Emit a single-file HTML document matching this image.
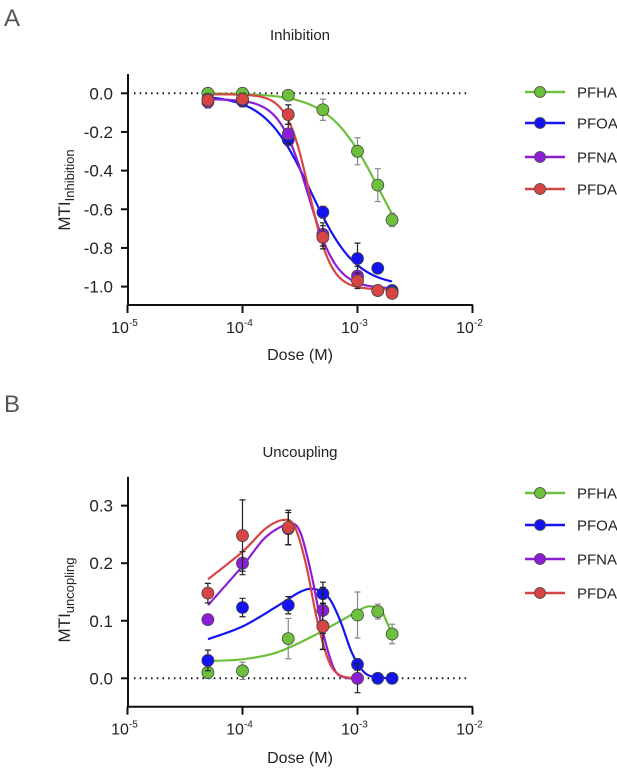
<!DOCTYPE html>
<html><head><meta charset="utf-8">
<style>
html,body{margin:0;padding:0;background:#fff;}
svg{display:block;font-family:"Liberation Sans",sans-serif;}
</style></head>
<body>
<svg id="fig" width="617" height="775" viewBox="0 0 617 775" xmlns="http://www.w3.org/2000/svg">
<text x="4" y="26" font-size="24" fill="#555">A</text>
<text x="300" y="40" font-size="15" text-anchor="middle" fill="#222">Inhibition</text>
<text x="4" y="412" font-size="24" fill="#555">B</text>
<text x="300" y="457" font-size="15" text-anchor="middle" fill="#222">Uncoupling</text>
<g id="gA"></g>
<g id="gB"></g>
</svg>
<script>
const names=["PFHA","PFOA","PFNA","PFDA"];
const colors=["#6cc03c","#1414f0","#8c1ed8","#d84444"];
const doses=[5e-5,1e-4,2.5e-4,5e-4,1e-3,1.5e-3,2e-3];
const xTickLabels=["-5","-4","-3","-2"];
// Panel A data
const inhPFHA=[0,0,-0.01,-0.085,-0.30,-0.475,-0.655];
const inhPFOA=[-0.03,-0.04,-0.24,-0.615,-0.855,-0.905,-1.02];
const inhPFNA=[-0.045,-0.03,-0.21,-0.73,-0.945,-1.02,-1.03];
const inhPFDA=[-0.035,-0.03,-0.11,-0.745,-0.97,-1.02,-1.035];
const inhErr=[[0.01,0.01,0.01,0.055,0.07,0.085,0.035],[0.02,0.03,0.03,0.03,0.08,0,0],[0.03,0.03,0.05,0.06,0.05,0,0],[0.02,0.03,0.05,0.06,0.04,0,0]];
// Hill fit params: top, bottom, IC50, hill
const hillTop=[0,-0.01,-0.03,-0.005];
const hillBottom=[-1,-1.0,-1.01,-1.015];
const hillIC50=[1.55e-3,3.9e-4,3.7e-4,3.8e-4];
const hillSlope=[2,2.2,3.5,4.5];
const yTicksA=[0,-0.2,-0.4,-0.6,-0.8,-1.0];
// Panel B data
const uncPFHA=[0.01,0.013,0.069,0.091,0.11,0.116,0.077];
const uncPFOA=[0.031,0.123,0.127,0.147,0.024,0,0];
const uncPFNA=[0.102,0.2,0.26,0.118,0,null,null];
const uncPFDA=[0.148,0.248,0.262,0.09,null,null,null];
const uncErr=[[0.01,0.015,0.035,0.04,0.04,0.013,0.017],[0.018,0.016,0.015,0.02,0.01,0,0],[0.008,0.02,0.028,0.04,0.025,0,0],[0.017,0.062,0.03,0.04,0,0,0]];
const fitLogX=[[-4.3,-4.0,-3.7,-3.4,-3.1,-2.95,-2.88,-2.8,-2.75,-2.7],[-4.3,-4.0,-3.7,-3.5,-3.37,-3.25,-3.15,-3.05,-2.95,-2.85,-2.7],[-4.3,-4.0,-3.8,-3.6,-3.5,-3.4,-3.3,-3.2,-3.1,-3.0],[-4.3,-4.0,-3.8,-3.65,-3.55,-3.45,-3.35,-3.25,-3.15,-3.0]];
const fitY=[[0.03,0.033,0.045,0.072,0.105,0.122,0.125,0.12,0.1,0.077],[0.068,0.09,0.125,0.15,0.155,0.14,0.1,0.045,0.012,0.002,0],[0.127,0.195,0.245,0.268,0.255,0.18,0.08,0.015,0.001,0],[0.172,0.22,0.26,0.275,0.265,0.2,0.1,0.03,0.005,0]];
const yTicksB=[0,0.1,0.2,0.3];

const NS="http://www.w3.org/2000/svg";
function mk(p,t,a){const e=document.createElementNS(NS,t);for(const k in a)e.setAttribute(k,a[k]);p.appendChild(e);return e;}
function xS(d){return 127.5+(Math.log10(d)+5)*115;}
function xL(l){return 127.5+(l+5)*115;}
function smooth(pts){let d="M"+pts[0][0]+","+pts[0][1];for(let i=0;i<pts.length-1;i++){const p0=pts[i-1]||pts[i],p1=pts[i],p2=pts[i+1],p3=pts[i+2]||p2;d+=` C${p1[0]+(p2[0]-p0[0])/6},${p1[1]+(p2[1]-p0[1])/6} ${p2[0]-(p3[0]-p1[0])/6},${p2[1]-(p3[1]-p1[1])/6} ${p2[0]},${p2[1]}`;}return d;}

function axes(g,yS,yTop,ticks,labelSub,labY,xAxY,xLabY){
  const ya=mk(g,"line",{x1:128,y1:yS(yTop),x2:128,y2:xAxY,stroke:"#111","stroke-width":2});
  
  
  const xa=mk(g,"line",{x1:127,y1:xAxY,x2:473,y2:xAxY,stroke:"#111","stroke-width":2});
  
  
  ticks.forEach(v=>{const y=yS(v);
    mk(g,"line",{x1:121,y1:y,x2:128,y2:y,stroke:"#111","stroke-width":2});
    const t=mk(g,"text",{x:113,y:y+6,"font-size":17,"text-anchor":"end",fill:"#222"});t.textContent=v.toFixed(1);
    
    });
  xTickLabels.forEach((lb,i)=>{const x=127.5+i*115;
    mk(g,"line",{x1:x,y1:xAxY,x2:x,y2:xAxY+8,stroke:"#111","stroke-width":2});
    const t=mk(g,"text",{x:x-3,y:xAxY+28,"font-size":16,"text-anchor":"middle",fill:"#222"});
    t.innerHTML='10<tspan dy="-7" font-size="10">'+lb+'</tspan>';
    
    });
  const xt=mk(g,"text",{x:300,y:xLabY,"font-size":16,"text-anchor":"middle",fill:"#222"});xt.textContent="Dose (M)";
  
  
  const yt=mk(g,"text",{x:0,y:0,"font-size":17,"text-anchor":"middle",fill:"#222",transform:`translate(70,${labY}) rotate(-90)`});
  yt.innerHTML='MTI<tspan dy="4" font-size="13">'+labelSub+'</tspan>';
  
  
  const z=mk(g,"line",{x1:134,y1:yS(0),x2:470,y2:yS(0),stroke:"#111","stroke-width":2,"stroke-dasharray":"1.5 4.2"});
  
  
}
function points(g,series,errs,yS){
  series.forEach((s,k)=>{s.forEach((v,i)=>{if(v===null)return;const x=xS(doses[i]),e=errs[k][i];
    if(e>0){const eb=mk(g,"path",{d:`M${x},${yS(v+e)}V${yS(v-e)}M${x-3},${yS(v+e)}h6M${x-3},${yS(v-e)}h6`,stroke:k==0?"#888":"#222","stroke-width":1.2,fill:"none"});
      
      }
    const c=mk(g,"circle",{cx:x,cy:yS(v),r:6,fill:colors[k],stroke:"#444","stroke-width":0.8});
    
    });});
}
function legend(g,ys){
  names.forEach((n,k)=>{const y=ys[k];
    const l=mk(g,"line",{x1:525,y1:y,x2:565,y2:y,stroke:colors[k],"stroke-width":2.5});
    
    
    const c=mk(g,"circle",{cx:540,cy:y,r:5.5,fill:colors[k],stroke:"#444","stroke-width":0.8});
    
    
    const t=mk(g,"text",{x:577,y:y+5.5,"font-size":15,fill:"#222"});t.textContent=n;
    
    });
}
// Panel A
const gA=document.getElementById("gA");
const yA=v=>93.3-v*193.3;
axes(gA,yA,0.1,yTicksA,"Inhibition",190,305,360);
[0,1,2,3].forEach(k=>{const pts=[];for(let l=Math.log10(5e-5);l<=Math.log10(2e-3)+1e-9;l+=0.02){const x=Math.pow(10,l);const f=Math.pow(x/hillIC50[k],hillSlope[k]);const y=hillTop[k]+(hillBottom[k]-hillTop[k])*f/(1+f);pts.push((pts.length?"L":"M")+xL(l).toFixed(1)+","+yA(y).toFixed(1));}
  const p=mk(gA,"path",{d:pts.join(""),stroke:colors[k],"stroke-width":2.2,fill:"none"});
  
  });
points(gA,[inhPFHA,inhPFOA,inhPFNA,inhPFDA],inhErr,yA);
legend(gA,[92,123,157,189]);
// Panel B
const gB=document.getElementById("gB");
const yB=v=>678.3-v*575.5;
axes(gB,yB,0.35,yTicksB,"uncopling",600,706.7,763);
[0,1,2,3].forEach(k=>{const pts=fitLogX[k].map((l,i)=>[xL(l),yB(fitY[k][i])]);
  const p=mk(gB,"path",{d:smooth(pts),stroke:colors[k],"stroke-width":2.2,fill:"none"});
  
  });
points(gB,[uncPFHA,uncPFOA,uncPFNA,uncPFDA],uncErr,yB);
legend(gB,[493,525,559,593]);
</script>
</body></html>
